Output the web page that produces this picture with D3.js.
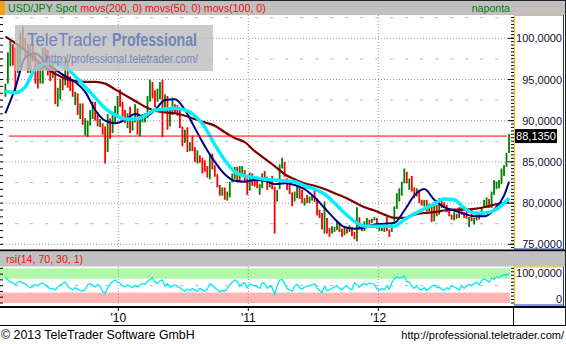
<!DOCTYPE html>
<html>
<head>
<meta charset="utf-8">
<script src="https://cdn.jsdelivr.net/npm/d3@7"></script>
<style>
  body { margin: 0; background: #fff; }
  svg { display: block; font-family: "Liberation Sans", Arial, sans-serif; }
</style>
</head>
<body>
<div id="chart"></div>
<script>
// weekly bars, first one is the week of Wed 2009-02-18
var firstWeek = new Date(2009, 1, 18);

var high = [
  94.5, 98.3, 99.7, 99.3, 98.9, 99.0, 100.7, 101.4, 100.0, 99.3, 99.3, 99.4, 98.2, 97.0, 97.2, 98.9, 98.9, 98.6, 97.0, 97.0, 96.4, 94.0, 95.1, 95.5, 97.8, 97.3, 95.4, 95.0, 93.5, 93.3, 92.1, 92.1, 90.3, 90.0, 91.3, 92.3, 92.3, 91.0, 90.2, 89.7, 89.3, 90.8, 90.3, 90.8, 91.8, 93.0,
  93.8, 92.3, 91.3, 90.9, 91.7, 90.0, 92.0, 91.5, 90.5, 90.8, 90.9, 93.0, 95.0, 94.7, 93.7, 93.9, 94.7, 95.0, 93.2, 93.0, 91.6, 92.8, 92.0, 91.9, 91.3, 89.3, 88.9, 89.2, 87.4, 88.2, 86.8, 86.4, 85.8, 85.5, 85.2, 84.5, 85.9, 86.0, 84.6, 83.5, 82.2, 81.9, 81.9, 81.4, 82.6, 83.6, 84.4, 84.4, 84.5, 84.5, 84.0, 83.0,
  83.7, 83.6, 83.2, 83.1, 82.3, 83.6, 83.9, 83.2, 82.7, 83.3, 82.0, 81.6, 84.7, 85.5, 85.0, 83.0, 82.6, 81.3, 81.4, 82.2, 82.0, 81.6, 80.6, 81.0, 80.8, 81.0, 81.5, 80.6, 79.2, 78.8, 80.2, 78.2, 77.0, 77.2, 77.1, 77.8, 77.5, 76.9, 77.1, 77.1, 77.3, 77.1, 76.5, 79.5, 78.3, 77.3, 77.8, 78.2, 78.0, 78.1, 78.3, 78.2,
  77.1, 77.1, 77.1, 78.3, 76.8, 77.6, 79.6, 81.2, 81.8, 82.6, 84.2, 83.8, 83.0, 83.3, 81.9, 81.8, 81.6, 80.4, 80.4, 80.4, 79.9, 79.8, 80.0, 79.8, 80.6, 80.6, 80.1, 79.8, 79.2, 78.6, 78.9, 78.7, 79.5, 79.6, 78.9, 79.3, 78.3, 79.2, 78.2, 78.7, 78.8, 79.5, 80.4, 80.7, 80.5, 81.4, 82.8, 82.6, 82.8, 84.2, 84.6, 86.1, 88.4
];
var low = [
  92.9, 94.5, 96.6, 96.7, 93.6, 95.8, 96.5, 98.7, 97.7, 95.8, 95.8, 97.2, 94.5, 93.9, 94.5, 94.5, 96.4, 95.5, 94.8, 95.2, 92.0, 91.7, 92.6, 93.7, 94.3, 94.0, 93.6, 92.9, 91.9, 90.7, 90.2, 89.5, 88.2, 88.0, 89.4, 90.2, 90.0, 89.3, 89.2, 88.3, 84.8, 86.2, 87.8, 88.5, 89.8, 90.8,
  91.7, 90.5, 89.7, 89.1, 88.5, 88.8, 89.8, 88.3, 88.1, 89.8, 89.8, 90.3, 92.3, 92.7, 91.6, 92.3, 92.6, 88.0, 91.6, 88.9, 89.3, 90.7, 90.9, 90.6, 89.1, 86.9, 87.3, 86.2, 86.3, 86.3, 85.0, 84.8, 84.9, 83.6, 83.8, 83.1, 82.9, 84.1, 83.2, 81.9, 80.9, 80.9, 80.4, 80.3, 80.7, 82.5, 82.9, 82.5, 82.6, 83.5, 82.6, 81.0,
  81.5, 82.1, 82.0, 81.8, 81.0, 81.8, 82.8, 81.6, 81.9, 81.7, 76.3, 80.2, 81.7, 84.2, 83.2, 81.6, 81.1, 79.6, 80.2, 80.6, 80.5, 80.0, 79.7, 80.0, 80.0, 80.3, 80.1, 78.5, 78.2, 76.8, 76.3, 76.3, 75.9, 76.3, 76.5, 76.7, 76.5, 75.9, 76.1, 76.3, 76.5, 76.0, 75.6, 75.35, 76.9, 76.6, 76.6, 77.3, 77.3, 77.6, 77.9, 76.9,
  76.6, 76.6, 76.5, 76.6, 75.9, 76.5, 77.5, 79.3, 80.2, 80.9, 82.4, 82.4, 81.6, 81.4, 80.6, 80.8, 80.0, 79.7, 79.6, 79.0, 79.0, 77.7, 77.8, 78.4, 78.6, 79.4, 79.5, 78.9, 78.4, 78.0, 77.9, 78.1, 78.2, 78.6, 78.2, 78.1, 77.1, 77.8, 77.4, 77.9, 78.0, 78.3, 79.5, 79.4, 79.4, 79.4, 81.0, 81.7, 81.8, 82.3, 83.3, 84.4, 86.1
];
var close = [
  94.3, 97.6, 98.3, 98.0, 95.3, 98.0, 100.5, 99.6, 99.0, 97.2, 99.0, 98.2, 95.3, 94.5, 95.3, 98.6, 98.4, 96.0, 95.2, 95.8, 92.6, 94.2, 94.9, 94.6, 97.6, 94.8, 94.5, 93.0, 93.1, 90.8, 91.6, 89.7, 89.7, 89.8, 90.9, 92.1, 90.1, 89.7, 89.7, 88.3, 86.5, 90.6, 89.8, 90.3, 91.4, 93.0,
  92.3, 90.7, 89.9, 90.3, 89.2, 89.9, 91.4, 89.0, 90.2, 90.5, 90.5, 92.5, 94.6, 92.8, 92.1, 93.9, 94.0, 91.6, 92.5, 90.0, 91.2, 91.7, 91.6, 90.6, 89.3, 87.7, 88.5, 86.5, 87.4, 86.4, 85.3, 85.6, 85.5, 85.3, 84.3, 83.8, 85.8, 84.3, 83.3, 82.0, 81.4, 81.4, 80.4, 81.2, 82.5, 83.6, 84.1, 82.5, 83.9, 83.9, 82.9, 81.1,
  83.2, 82.6, 82.5, 82.1, 82.2, 83.3, 83.1, 81.7, 82.3, 81.9, 80.6, 81.5, 84.1, 84.8, 83.1, 81.9, 81.2, 80.6, 80.9, 81.7, 80.8, 80.3, 80.3, 80.0, 80.4, 80.7, 80.6, 79.2, 78.5, 76.8, 78.4, 76.8, 76.6, 76.6, 76.8, 77.6, 76.8, 76.6, 77.0, 76.7, 76.9, 76.2, 75.8, 78.2, 77.0, 76.9, 77.7, 77.9, 77.6, 78.0, 78.1, 76.9,
  76.9, 76.9, 76.9, 76.7, 76.6, 77.6, 79.5, 81.2, 81.8, 82.4, 83.4, 82.4, 82.9, 81.6, 80.9, 81.6, 80.3, 79.9, 80.2, 79.0, 79.6, 78.0, 79.5, 78.7, 80.4, 79.8, 79.6, 79.1, 78.5, 78.3, 78.5, 78.3, 79.5, 78.7, 78.3, 78.2, 78.3, 77.8, 77.9, 78.6, 78.4, 79.3, 79.9, 80.4, 79.5, 81.3, 82.4, 82.4, 82.5, 83.5, 84.2, 86.0, 88.1
];
var rsi = [
  75, 66, 60, 58, 52, 60, 62, 57, 55, 48, 44, 47, 53, 49, 56, 58, 52, 46, 40, 42, 38, 46, 52, 57, 60, 49, 42, 38, 44, 40, 36, 34, 40, 52, 57, 50, 46, 53, 48, 32, 28, 42, 55, 62, 66, 60,
  57, 50, 46, 52, 48, 44, 50, 46, 52, 56, 54, 62, 68, 73, 60, 56, 64, 66, 48, 56, 45, 50, 52, 48, 44, 38, 34, 40, 36, 42, 38, 34, 42, 38, 34, 40, 56, 52, 44, 38, 32, 36, 34, 42, 52, 60, 66, 62, 48, 56, 58, 44,
  55, 52, 50, 46, 42, 58, 56, 42, 50, 44, 24, 50, 66, 68, 56, 42, 38, 34, 48, 54, 44, 40, 46, 48, 50, 52, 55, 44, 36, 30, 48, 36, 38, 42, 46, 50, 42, 38, 46, 48, 42, 38, 58, 52, 46, 54, 56, 52, 58, 56, 54, 40,
  36, 42, 38, 50, 40, 58, 70, 76, 72, 74, 78, 62, 60, 48, 42, 50, 40, 38, 44, 36, 42, 48, 52, 44, 46, 40, 36, 44, 40, 50, 46, 42, 38, 50, 42, 48, 54, 50, 56, 60, 52, 64, 70, 66, 60, 72, 68, 76, 74, 78, 82, 80, 86
];

// moving averages read every 4th week (plus the last one)
var maWeeks = d3.range(0, 201, 4).concat([202]);
var mov200 = [100.2, 99.4, 98.5, 97.5, 96.4, 95.7, 95.1, 94.8, 94.7, 94.7, 94.5, 93.8, 93.1, 92.4, 91.7, 91.2, 91.0, 90.9, 90.6, 90.2, 89.8, 89.4, 88.6, 87.9, 87.4, 86.3, 85.4, 84.5, 83.5, 82.9, 82.4, 82.1, 81.7, 81.2, 80.7, 80.1, 79.5, 79.1, 78.6, 78.2, 78.2, 78.6, 78.8, 78.9, 79.1, 79.2, 79.2, 79.3, 79.5, 79.8, 80.0, 80.1];
var mov50 = [90.9, 94.0, 97.7, 98.2, 97.1, 96.2, 95.4, 94.7, 93.5, 91.3, 90.0, 89.7, 90.1, 90.8, 90.5, 91.3, 92.5, 92.6, 91.3, 89.1, 86.9, 85.0, 83.5, 82.7, 82.6, 82.8, 82.7, 82.3, 82.4, 82.2, 81.7, 80.7, 79.4, 78.1, 77.1, 76.9, 77.0, 77.4, 77.5, 77.6, 79.1, 80.9, 81.7, 80.4, 79.5, 79.1, 78.7, 78.4, 78.4, 79.2, 80.9, 82.6];
var mov100 = [93.6, 93.4, 94.1, 96.3, 96.9, 97.1, 96.5, 95.4, 94.1, 92.8, 91.5, 90.7, 90.2, 90.2, 90.6, 91.3, 91.4, 91.5, 91.3, 90.6, 89.2, 87.1, 85.2, 83.8, 83.3, 83.1, 82.9, 82.8, 82.7, 82.6, 82.1, 81.7, 81.1, 80.0, 78.8, 77.8, 77.2, 77.2, 77.2, 77.2, 78.0, 78.7, 79.3, 79.9, 80.5, 80.4, 79.4, 78.8, 78.8, 79.1, 80.0, 80.6];

var lastPrice = 88.135;
var priceTicks = [75, 80, 85, 90, 95, 100];
var midTicks = [77.5, 82.5, 87.5, 92.5, 97.5, 102.5];
var years = [new Date(2010, 0, 1), new Date(2011, 0, 1), new Date(2012, 0, 1)];
var yearLabels = ["'10", "'11", "'12"];

var W = 566, H = 344;
var fmt = v => d3.format(".4f")(v).replace(".", ",");

var svg = d3.select("#chart").append("svg").attr("width", W).attr("height", H);
svg.append("rect").attr("width", W).attr("height", H).attr("fill", "#fff");

var x = d3.scaleTime()
    .domain([new Date(2010, 0, 1), new Date(2012, 0, 1)])
    .range([118.3, 378.3]);
var y = d3.scaleLinear().domain([75, 100]).range([244.3, 38.3]);
var yr = d3.scaleLinear().domain([0, 100]).range([303, 268.3]);
var dates = high.map((d, i) => d3.timeDay.offset(firstWeek, 7 * i));

// header
svg.append("rect").attr("x", 0).attr("y", 0).attr("width", W).attr("height", 15).attr("fill", "#c0c0c0");
svg.append("rect").attr("x", 0).attr("y", 0).attr("width", 5).attr("height", 15).attr("fill", "#f5a01a");
svg.append("line").attr("x1", 0).attr("x2", W).attr("y1", 0.5).attr("y2", 0.5).attr("stroke", "#222");
var title = svg.append("text").attr("x", 8).attr("y", 12).attr("font-size", "10.6px");
title.append("tspan").attr("fill", "#008000").text("USD/JPY Spot ");
title.append("tspan").attr("fill", "#ee1111").text("movs(200, 0) movs(50, 0) movs(100, 0)");
svg.append("text").attr("x", 510).attr("y", 12).attr("font-size", "10.6px")
    .attr("text-anchor", "end").attr("fill", "#008000").text("naponta");

// main plot
var clip = svg.append("clipPath").attr("id", "main");
clip.append("rect").attr("x", 0).attr("y", 15).attr("width", 513).attr("height", 234);
var plot = svg.append("g").attr("clip-path", "url(#main)");

plot.selectAll(".grid").data(priceTicks).join("line")
    .attr("x1", 3).attr("x2", 510).attr("y1", d => y(d)).attr("y2", d => y(d))
    .attr("stroke", "#999").attr("stroke-dasharray", "1,2");
plot.selectAll(".mid").data(midTicks).join("line")
    .attr("x1", 0).attr("x2", 510).attr("y1", d => y(d)).attr("y2", d => y(d))
    .attr("stroke", "#b8b8b8").attr("stroke-dasharray", "3.3,11.7");
plot.selectAll(".vgrid").data(years).join("line")
    .attr("x1", d => x(d)).attr("x2", d => x(d)).attr("y1", 15).attr("y2", 249)
    .attr("stroke", "#999").attr("stroke-dasharray", "1,2");

plot.append("g").selectAll("rect").data(high).join("rect")
    .attr("x", (d, i) => x(dates[i]) - 0.9)
    .attr("width", 1.8)
    .attr("y", (d, i) => y(high[i]))
    .attr("height", (d, i) => Math.max(1, y(low[i]) - y(high[i])))
    .attr("fill", (d, i) => i == 0 || close[i] >= close[i - 1] ? "#008000" : "#ff0000");

var maLine = d3.line()
    .x((d, i) => x(dates[maWeeks[i]]))
    .y(d => y(d))
    .curve(d3.curveMonotoneX);
plot.append("path").attr("d", maLine(mov200)).attr("fill", "none").attr("stroke", "#800000").attr("stroke-width", 2.2);
plot.append("path").attr("d", maLine(mov50)).attr("fill", "none").attr("stroke", "#000080").attr("stroke-width", 2);
plot.append("path").attr("d", maLine(mov100)).attr("fill", "none").attr("stroke", "#00f0ff").attr("stroke-width", 3.5);

plot.append("line").attr("x1", 9).attr("x2", 507)
    .attr("y1", y(lastPrice)).attr("y2", y(lastPrice))
    .attr("stroke", "#ff0000").attr("stroke-width", 1);

// watermark
var wm = svg.append("g");
wm.append("rect").attr("x", 15).attr("y", 25).attr("width", 198).attr("height", 46)
    .attr("fill", "#bdbdbd").attr("opacity", 0.8);
wm.append("text").attr("x", 27).attr("y", 45.5).attr("font-size", "17.5px")
    .attr("fill", "#7383bb").attr("textLength", 80).attr("lengthAdjust", "spacingAndGlyphs")
    .text("TeleTrader");
wm.append("text").attr("x", 112).attr("y", 45.5).attr("font-size", "17.5px").attr("font-weight", "bold")
    .attr("fill", "#7383bb").attr("textLength", 85).attr("lengthAdjust", "spacingAndGlyphs")
    .text("Professional");
wm.append("text").attr("x", 45).attr("y", 63).attr("font-size", "12px")
    .attr("fill", "#7886b8").attr("textLength", 153).attr("lengthAdjust", "spacingAndGlyphs")
    .text("http://professional.teletrader.com/");

// left ticks
svg.append("g").selectAll("line").data(d3.range(75, 102.6, 5 / 6)).join("line")
    .attr("x1", 0).attr("x2", 3).attr("y1", d => y(d)).attr("y2", d => y(d)).attr("stroke", "#000");

// price axis box
function axisBox(y0, y1) {
  svg.append("line").attr("x1", 514).attr("x2", 563).attr("y1", y0 + 0.5).attr("y2", y0 + 0.5).attr("stroke", "#f5c400");
  svg.append("line").attr("x1", 514.5).attr("x2", 514.5).attr("y1", y0).attr("y2", y1).attr("stroke", "#f5c400");
  svg.append("line").attr("x1", 514).attr("x2", 564).attr("y1", y1 - 0.5).attr("y2", y1 - 0.5).attr("stroke", "#1438c8");
  svg.append("line").attr("x1", 563.5).attr("x2", 563.5).attr("y1", y0).attr("y2", y1).attr("stroke", "#1438c8");
}
axisBox(15, 249.5);
svg.append("g").selectAll("line").data(d3.range(74.6, 102.6, 5 / 12)).join("line")
    .attr("x1", 511).attr("x2", 514).attr("y1", d => y(d)).attr("y2", d => y(d)).attr("stroke", "#000");
svg.append("g").selectAll("line").data(priceTicks).join("line")
    .attr("x1", 508).attr("x2", 514).attr("y1", d => y(d)).attr("y2", d => y(d)).attr("stroke", "#000");
svg.append("g").selectAll("text").data(priceTicks).join("text")
    .attr("x", 562).attr("y", d => y(d) + 4).attr("text-anchor", "end")
    .attr("font-size", "11px").attr("fill", "#101030").text(fmt);
svg.append("rect").attr("x", 515).attr("y", y(lastPrice) - 7).attr("width", 42).attr("height", 14).attr("fill", "#000");
svg.append("text").attr("x", 536).attr("y", y(lastPrice) + 4).attr("text-anchor", "middle")
    .attr("font-size", "11px").attr("fill", "#fff").text(fmt(lastPrice));

// separator + rsi header
svg.append("rect").attr("x", 0).attr("y", 249.5).attr("width", W).attr("height", 2).attr("fill", "#000");
svg.append("rect").attr("x", 0).attr("y", 251.5).attr("width", W).attr("height", 15).attr("fill", "#c0c0c0");
svg.append("text").attr("x", 6).attr("y", 263).attr("font-size", "10.6px").attr("fill", "#ee1111")
    .text("rsi(14, 70, 30, 1)");

// rsi panel
svg.append("rect").attr("x", 0).attr("y", yr(100)).attr("width", 510).attr("height", yr(70) - yr(100)).attr("fill", "#b0f8a8");
svg.append("rect").attr("x", 0).attr("y", yr(30)).attr("width", 510).attr("height", yr(0) - yr(30)).attr("fill", "#ffb4b4");
svg.append("line").attr("x1", 0).attr("x2", 510).attr("y1", yr(50)).attr("y2", yr(50))
    .attr("stroke", "#b8b8b8").attr("stroke-dasharray", "3.3,11.7");
svg.append("g").selectAll("line").data(years).join("line")
    .attr("x1", d => x(d)).attr("x2", d => x(d)).attr("y1", 267).attr("y2", 306)
    .attr("stroke", "#999").attr("stroke-dasharray", "1,2");
svg.append("path")
    .attr("d", d3.line().x((d, i) => x(dates[i])).y(d => yr(d))(rsi))
    .attr("fill", "none").attr("stroke", "#00eaf4").attr("stroke-width", 1.3);
svg.append("g").selectAll("line").data(d3.range(0, 101, 100 / 6)).join("line")
    .attr("x1", 0).attr("x2", 3).attr("y1", d => yr(d)).attr("y2", d => yr(d)).attr("stroke", "#000");
axisBox(266.5, 305.5);
svg.append("g").selectAll("line").data(d3.range(0, 101, 10)).join("line")
    .attr("x1", 511).attr("x2", 514).attr("y1", d => yr(d)).attr("y2", d => yr(d)).attr("stroke", "#000");
svg.append("text").attr("x", 562).attr("y", 277).attr("text-anchor", "end")
    .attr("font-size", "11px").attr("fill", "#101030").text(fmt(100));
svg.append("text").attr("x", 562).attr("y", 303).attr("text-anchor", "end")
    .attr("font-size", "11px").attr("fill", "#101030").text("0");

// time axis
svg.append("rect").attr("x", 0).attr("y", 306).attr("width", W).attr("height", 2).attr("fill", "#000");
svg.append("line").attr("x1", 0).attr("x2", W).attr("y1", 325.5).attr("y2", 325.5).attr("stroke", "#000");
svg.append("line").attr("x1", 513.5).attr("x2", 513.5).attr("y1", 307).attr("y2", 326).attr("stroke", "#000");
svg.append("g").selectAll("line").data(years).join("line")
    .attr("x1", d => x(d)).attr("x2", d => x(d)).attr("y1", 308).attr("y2", 311).attr("stroke", "#000");
svg.append("g").selectAll("text").data(years).join("text")
    .attr("x", d => x(d)).attr("y", 322).attr("text-anchor", "middle")
    .attr("font-size", "12px").attr("fill", "#000").text((d, i) => yearLabels[i]);

// footer
svg.append("text").attr("x", 1).attr("y", 339).attr("font-size", "12.4px").attr("fill", "#000")
    .text("\u00a9 2013 TeleTrader Software GmbH");
svg.append("text").attr("x", 564).attr("y", 339).attr("font-size", "11px").attr("fill", "#000")
    .attr("text-anchor", "end")
    .text("http://professional.teletrader.com/");
svg.append("line").attr("x1", 565.5).attr("x2", 565.5).attr("y1", 0).attr("y2", 326).attr("stroke", "#222");
</script>
</body>
</html>
